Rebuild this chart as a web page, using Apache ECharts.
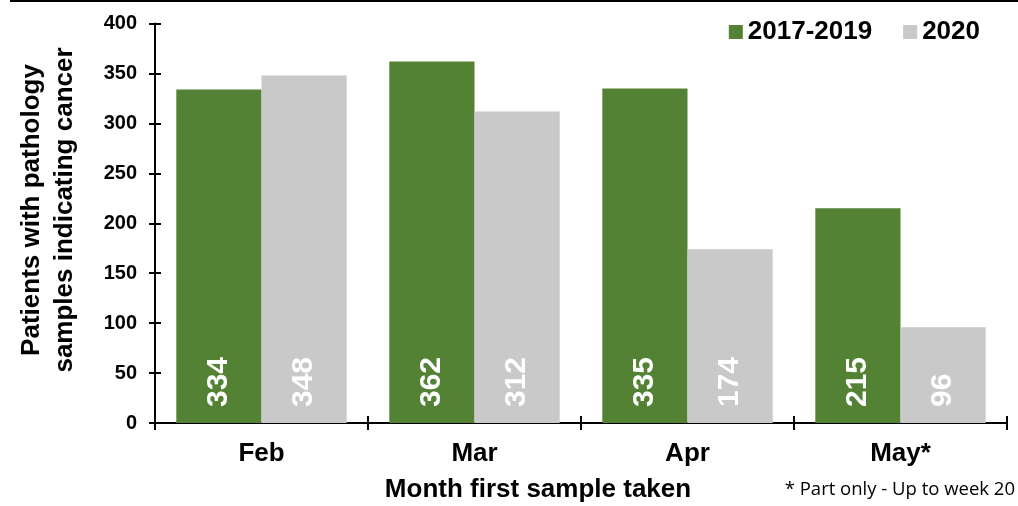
<!DOCTYPE html>
<html><head><meta charset="utf-8">
<script src="https://cdn.jsdelivr.net/npm/echarts@6/dist/echarts.min.js"></script>
<style>html,body{margin:0;padding:0;background:#fff}#c{width:1018px;height:506px}</style>
</head><body><div id="c"></div>
<script>
const categories = ['Feb', 'Mar', 'Apr', 'May*'];
const series2017_2019 = [334, 362, 335, 215];
const series2020 = [348, 312, 174, 96];
const seriesNames = ['2017-2019', '2020'];
const yTicks = { min: 0, max: 400, interval: 50 };
const yTitle = 'Patients with pathology\nsamples indicating cancer';
const xTitle = 'Month first sample taken';
const footnote = '* Part only - Up to week 20';

const F = 'Liberation Sans, Arial, sans-serif';
const chart = echarts.init(document.getElementById('c'));
const lbl = {
  show: true, position: 'insideBottom', rotate: 90, align: 'left', verticalAlign: 'middle',
  distance: 16, color: '#fff', fontFamily: F, fontWeight: 'bold', fontSize: 30
};
const axLine = { show: true, lineStyle: { color: '#000', width: 2 } };
chart.setOption({
  animation: false,
  textStyle: { fontFamily: F },
  grid: { left: 155, right: 11, top: 23.6, bottom: 83, containLabel: false },
  legend: {
    right: 33, top: 14, itemWidth: 14, itemHeight: 14, itemGap: 31, icon: 'rect',
    textStyle: { fontFamily: F, fontWeight: 'bold', fontSize: 26, color: '#000' },
    data: seriesNames
  },
  xAxis: [{
    type: 'category', data: categories,
    axisLine: axLine,
    axisTick: { show: true, length: 7, lineStyle: { color: '#000', width: 2 } },
    axisLabel: { margin: 18, color: '#000', fontFamily: F, fontWeight: 'bold', fontSize: 26 }
  }, {
    type: 'category', data: categories, position: 'bottom',
    axisLine: { show: false },
    axisTick: { show: true, inside: true, length: 7, lineStyle: { color: '#000', width: 2 } },
    axisLabel: { show: false }
  }],
  yAxis: [{
    type: 'value', min: yTicks.min, max: yTicks.max, interval: yTicks.interval,
    splitLine: { show: false },
    axisLine: axLine,
    axisTick: { show: true, length: 6, lineStyle: { color: '#000', width: 2 } },
    axisLabel: { margin: 18, color: '#000', fontFamily: F, fontWeight: 'bold', fontSize: 20 }
  }, {
    type: 'value', min: yTicks.min, max: yTicks.max, interval: yTicks.interval, position: 'left',
    splitLine: { show: false }, axisLine: { show: false },
    axisTick: { show: true, inside: true, length: 6, lineStyle: { color: '#000', width: 2 } },
    axisLabel: { show: false }
  }],
  series: [
    { name: seriesNames[0], type: 'bar', data: series2017_2019, barGap: '0%', barCategoryGap: '20%',
      itemStyle: { color: '#548235' }, label: lbl },
    { name: seriesNames[1], type: 'bar', data: series2020, barGap: '0%', barCategoryGap: '20%',
      itemStyle: { color: '#C9C9C9' }, label: lbl }
  ],
  graphic: [
    { type: 'line', shape: { x1: 10, y1: 1, x2: 1018, y2: 1 }, style: { stroke: '#000', lineWidth: 2 } },
    { type: 'text', x: 48, y: 210, rotation: Math.PI / 2,
      style: { text: yTitle, fontFamily: F, fontWeight: 'bold', fontSize: 26, lineHeight: 33,
               fill: '#000', align: 'center', verticalAlign: 'middle' } },
    { type: 'text', x: 538, y: 490,
      style: { text: xTitle, fontFamily: F, fontWeight: 'bold', fontSize: 26,
               fill: '#000', align: 'center', verticalAlign: 'middle' } },
    { type: 'text', x: 1015, y: 490,
      style: { text: footnote, fontFamily: 'Open Sans, sans-serif', fontSize: 18.5,
               fill: '#000', align: 'right', verticalAlign: 'middle' } }
  ]
});
</script></body></html>
